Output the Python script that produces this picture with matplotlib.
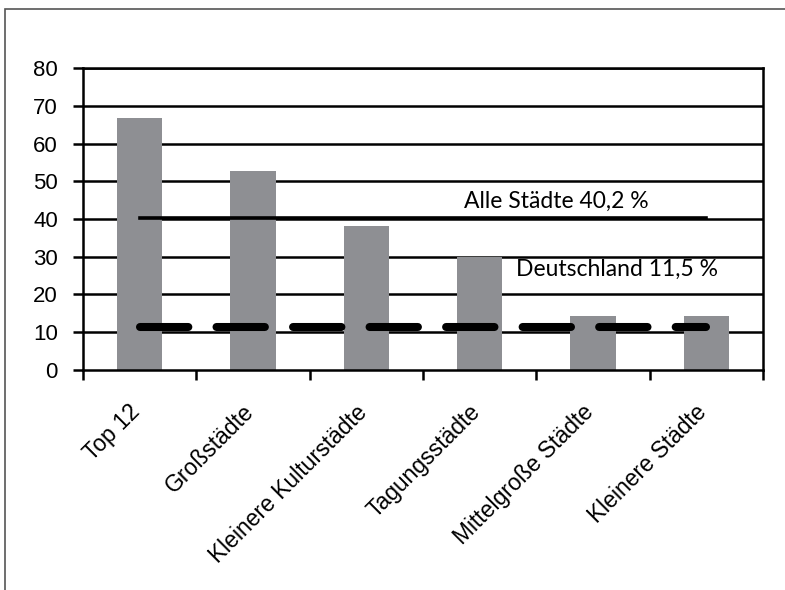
import matplotlib.pyplot as plt
from matplotlib.patches import Rectangle

# data
kategorien = ['Top 12', 'Großstädte', 'Kleinere Kulturstädte', 'Tagungsstädte',
              'Mittelgroße Städte', 'Kleinere Städte']
werte = [66.8, 52.6, 38.2, 30.0, 14.3, 14.3]
alle_staedte = 40.2
deutschland = 11.5
yticks = [0, 10, 20, 30, 40, 50, 60, 70, 80]

plt.rcParams['font.family'] = ['Liberation Sans', 'DejaVu Sans']

fig = plt.figure(figsize=(7.85, 5.90), dpi=100)
ax = fig.add_axes([0.1057, 0.3729, 0.8663, 0.5118])

# outer frame (cut off right and bottom like the source)
fig.patches.append(Rectangle((0.007, -0.05), 1.1, 1.035, transform=fig.transFigure,
                             fill=False, edgecolor='#555555', lw=1.2))

x = list(range(len(kategorien)))
ax.bar(x, werte, width=0.4, color='#8e8f93', zorder=2)

# grid lines
for y in yticks[1:]:
    ax.axhline(y, color='black', lw=1.8, zorder=1)

ax.plot([0, 5], [alle_staedte, alle_staedte], color='black', lw=2.6, zorder=3)
ax.plot([0, 5], [deutschland, deutschland], color='black', lw=5.8,
        ls=(0, (6, 3.5)), dash_capstyle='round', zorder=3)

ax.text(2.863, 42.9, 'Alle Städte 40,2 %', fontsize=16.5, family=['Lato', 'DejaVu Sans'],
        va='baseline', zorder=4)
ax.text(3.32, 24.9, 'Deutschland 11,5 %', fontsize=16.5, family=['Lato', 'DejaVu Sans'],
        va='baseline', zorder=4)

ax.set_xlim(-0.5, 5.5)
ax.set_ylim(0, 80)
ax.set_yticks(yticks)
ax.tick_params(axis='y', labelsize=16, length=7, width=1.8, pad=11)

# boundary ticks without labels, labels at centres
ax.set_xticks([i - 0.5 for i in range(len(kategorien) + 1)])
ax.set_xticklabels([])
ax.tick_params(axis='x', which='major', length=7, width=1.8)
ax.set_xticks([i + 0.045 for i in x], minor=True)
ax.set_xticklabels(kategorien, minor=True, rotation=45, ha='right', va='top',
                   fontsize=16.5)
ax.tick_params(axis='x', which='minor', length=0, pad=22)

for s in ax.spines.values():
    s.set_linewidth(1.8)
    s.set_color('black')

fig.savefig('out.png', dpi=100)
